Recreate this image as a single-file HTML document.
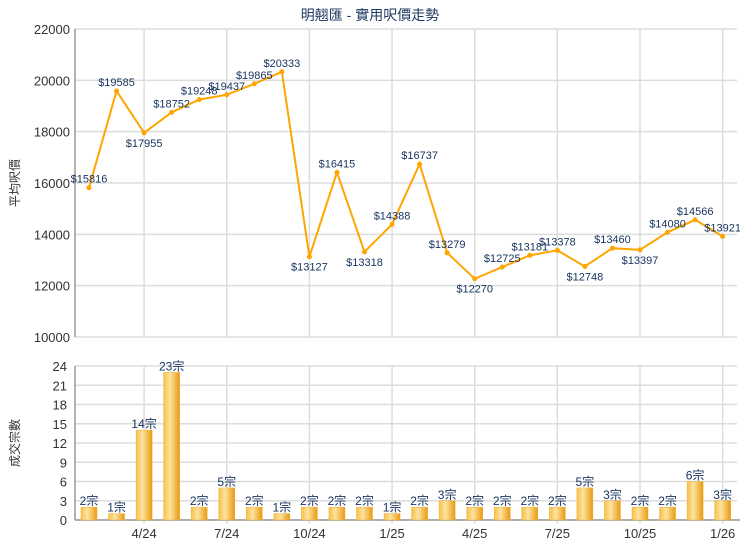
<!DOCTYPE html>
<html><head><meta charset="utf-8"><style>
body{margin:0;background:#fff;font-family:"Liberation Sans","Noto Sans CJK TC",sans-serif}
svg text{font-family:"Liberation Sans","Noto Sans CJK TC",sans-serif}
</style></head><body>
<svg id="c" width="740" height="550" xmlns="http://www.w3.org/2000/svg">
<defs><linearGradient id="bg" x1="0" x2="1"><stop offset="0" stop-color="#f6c14a"/><stop offset="0.4" stop-color="#fde3a0"/><stop offset="1" stop-color="#e89a10"/></linearGradient></defs>
<text x="370" y="20" text-anchor="middle" font-size="14" fill="#1f3a60">明翹匯 - 實用呎價走勢</text>
<text transform="translate(19,183) rotate(-90)" text-anchor="middle" font-size="12" fill="#333">平均呎價</text>
<text transform="translate(19,443) rotate(-90)" text-anchor="middle" font-size="12" fill="#333">成交宗數</text>
<g id="g"></g>
</svg>
<script>
const months=["2/24","3/24","4/24","5/24","6/24","7/24","8/24","9/24","10/24","11/24","12/24","1/25","2/25","3/25","4/25","5/25","6/25","7/25","8/25","9/25","10/25","11/25","12/25","1/26"];
const prices=[15816,19585,17955,18752,19248,19437,19865,20333,13127,16415,13318,14388,16737,13279,12270,12725,13181,13378,12748,13460,13397,14080,14566,13921];
const counts=[2,1,14,23,2,5,2,1,2,2,2,1,2,3,2,2,2,2,5,3,2,2,6,3];
const priceTicks=[10000,12000,14000,16000,18000,20000,22000];
const countTicks=[0,3,6,9,12,15,18,21,24];
const xLabels=["4/24","7/24","10/24","1/25","4/25","7/25","10/25","1/26"];

const NS="http://www.w3.org/2000/svg",g=document.getElementById('g');
function el(t,a,txt){const e=document.createElementNS(NS,t);for(const k in a)e.setAttribute(k,a[k]);if(txt!=null)e.textContent=txt;g.appendChild(e);return e;}
const L=75,R=737,T1=29,B1=337,T2=366,B2=520;
const x=i=>89+27.55*i;
const y1=v=>B1-(v-10000)/12000*(B1-T1);
const y2=v=>B2-v/24*(B2-T2);
// grids
priceTicks.forEach(t=>{
 let e=el('line',{x1:L,x2:R,y1:y1(t),y2:y1(t),stroke:'#ddd','stroke-width':1.5});
 
 e=el('text',{x:L-5,y:y1(t)+5,'text-anchor':'end','font-size':13,fill:'#333'},t);
 
});
countTicks.forEach(t=>{
 let e=el('line',{x1:L,x2:R,y1:y2(t),y2:y2(t),stroke:'#ddd','stroke-width':1.5});
 
 e=el('text',{x:L-8,y:y2(t)+5,'text-anchor':'end','font-size':13,fill:'#333'},t);
 
});
xLabels.forEach(lb=>{
 const i=months.indexOf(lb),xx=x(i);
 let e=el('line',{x1:xx,x2:xx,y1:T1,y2:B1,stroke:'#ddd','stroke-width':1.5});
 
 e=el('line',{x1:xx,x2:xx,y1:T2,y2:B2+4,stroke:'#ddd','stroke-width':1.5});
 
 e=el('text',{x:xx,y:538,'text-anchor':'middle','font-size':13,fill:'#333'},lb);
 
});
let ax=el('line',{x1:L,x2:L,y1:T1,y2:B1,stroke:'#999','stroke-width':1.5});

ax=el('line',{x1:L,x2:L,y1:T2,y2:B2,stroke:'#999','stroke-width':1.5});

ax=el('line',{x1:L,x2:R+3,y1:B2,y2:B2,stroke:'#999','stroke-width':1.5});

// line
let pl=el('polyline',{points:prices.map((v,i)=>x(i)+','+y1(v)).join(' '),fill:'none',stroke:'#FFA500','stroke-width':2});

prices.forEach((v,i)=>{
 let e=el('circle',{cx:x(i),cy:y1(v),r:2.5,fill:'#FFA500'});
 
 const prev=i>0?prices[i-1]:v,next=i<prices.length-1?prices[i+1]:v;
 const below=(v<prev&&v<next);
 e=el('text',{x:x(i),y:below?y1(v)+14:y1(v)-5,'text-anchor':'middle','font-size':11,fill:'#1a3560'},'$'+v);
 
});
counts.forEach((v,i)=>{
 let e=el('rect',{x:x(i)-8,y:y2(v),width:16,height:B2-y2(v),fill:'url(#bg)',stroke:'#f0b030','stroke-width':0.5});
 
 e=el('text',{x:x(i),y:y2(v)-2,'text-anchor':'middle','font-size':12,fill:'#1a3560'},v+'宗');
 
});
</script>
</body></html>
